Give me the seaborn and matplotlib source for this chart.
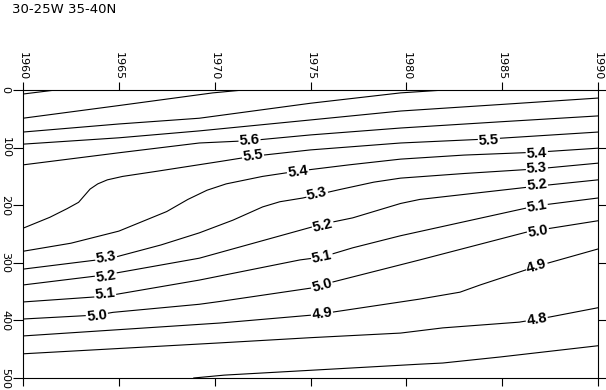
import numpy as np
import pandas as pd
import matplotlib
matplotlib.use("Agg")
import matplotlib.pyplot as plt
import seaborn as sns

c60 = [(1960, 7), (1961.7, 0)]
c59 = [(1960, 49), (1965, 27), (1969.9, 5), (1971.5, 0)]
c58 = [(1960, 73), (1965, 59), (1969.2, 49), (1975, 23), (1979.7, 5), (1982, 0)]
c57 = [(1960, 94), (1965, 83), (1969.2, 71), (1975, 52), (1979.7, 36.5), (1985, 25), (1990, 14)]
c56 = [(1960, 130), (1965, 109), (1969.2, 92), (1971.8, 88), (1975, 78), (1979.7, 66), (1985, 55), (1990, 45)]
c55 = [(1960, 240), (1961.4, 221), (1962.3, 206), (1962.9, 195), (1963.5, 172), (1963.9, 163),
       (1964.4, 156), (1965.2, 150), (1967, 141), (1970.3, 124), (1972, 115), (1975, 104),
       (1979.7, 92), (1984.3, 85), (1990, 73)]
c54 = [(1960, 280), (1962.5, 266), (1965, 245), (1967.5, 211), (1968.6, 190), (1969.6, 174),
       (1970.6, 163), (1972.5, 150), (1974.3, 141), (1977, 130), (1979.7, 120), (1983, 113),
       (1986.8, 108), (1990, 101)]
c53 = [(1960, 311), (1964.6, 292), (1967.2, 269), (1969.2, 248), (1970.95, 226), (1972.5, 203),
       (1973.4, 194), (1974.6, 187.5), (1976.5, 173), (1978.3, 160), (1979.7, 153), (1983, 145),
       (1986.8, 137), (1990, 127)]
c52 = [(1960, 338.5), (1964.3, 321), (1969.2, 292), (1975.6, 233), (1977.2, 222), (1979.7, 197),
       (1980.7, 190), (1986.8, 167), (1990, 156)]
c51 = [(1960, 368), (1964.3, 358), (1969.2, 330), (1974.45, 295), (1975.6, 290), (1977.2, 274),
       (1979.7, 253), (1986.8, 201), (1990, 187.5)]
c50 = [(1960, 397.6), (1963.9, 390.6), (1964.7, 386), (1969.2, 372), (1970.3, 367), (1975, 344),
       (1975.6, 338.5), (1976.2, 333), (1980.7, 295), (1986.3, 246.5), (1990, 227)]
c49 = [(1960, 427), (1970.3, 404.5), (1975, 391), (1976.2, 385.4), (1980.7, 363), (1982.8, 351),
       (1983.85, 338.5), (1985.9, 316), (1986.8, 306), (1990, 276)]
c48 = [(1960, 458), (1970.3, 439), (1975, 430), (1979.7, 422), (1981.9, 413), (1985.9, 403),
       (1987.5, 394), (1990, 378)]
c47 = [(1968.9, 500), (1970.5, 495), (1980.7, 476), (1981.9, 474), (1984.9, 463.5), (1990, 444)]

level_names = ["6.0", "5.9", "5.8", "5.7", "5.6", "5.5", "5.4", "5.3", "5.2", "5.1", "5.0", "4.9", "4.8", "4.7"]
level_lines = [c60, c59, c58, c57, c56, c55, c54, c53, c52, c51, c50, c49, c48, c47]

# inline contour labels
label_text = ["5.6", "5.5", "5.4", "5.3", "5.2", "5.1", "5.0", "4.9",
              "5.5", "5.4", "5.3", "5.2", "5.1", "5.0", "4.9", "4.8",
              "5.3", "5.2", "5.1", "5.0"]
label_year = [1971.82, 1972.0, 1974.35, 1975.34, 1975.65, 1975.6, 1975.6, 1975.6,
              1984.31, 1986.81, 1986.81, 1986.81, 1986.81, 1986.87, 1986.81, 1986.81,
              1964.33, 1964.33, 1964.28, 1963.86]
label_depth = [87.7, 114.6, 142.4, 180.6, 236, 290, 340, 389,
               86.8, 109.4, 135.4, 165, 201.4, 244.8, 306.4, 399,
               290, 323, 354, 392]

years = [1960, 1965, 1970, 1975, 1980, 1985, 1990]
depths = [0, 100, 200, 300, 400, 500]

rows = []
for name, pts in zip(level_names, level_lines):
    for i, (yr, dp) in enumerate(pts):
        rows.append({"level": name, "order": i, "year": yr, "depth": dp})
df = pd.DataFrame(rows)

sns.set_theme(style="white")
plt.rcParams["font.family"] = ["DejaVu Sans"]

fig = plt.figure(figsize=(6.06, 3.9), dpi=100)
ax = fig.add_axes([23 / 606, 12 / 390, 575 / 606, 288 / 390])

sns.lineplot(data=df, x="year", y="depth", units="level", estimator=None, sort=False,
             color="black", linewidth=0.8, legend=False, ax=ax)

ax.set_xlim(1960, 1990)
ax.set_ylim(500, 0)
ax.set_xlabel("")
ax.set_ylabel("")

ax.set_xticks(years)
ax.set_xticklabels([str(y) for y in years], rotation=-90)
ax.set_yticks(depths)
ax.set_yticklabels([str(d) for d in depths], rotation=-90, va="center")
ax.tick_params(axis="x", top=True, bottom=True, labeltop=True, labelbottom=False,
               direction="out", length=6, width=0.8, color="black", pad=1,
               labelsize=8, labelcolor="black")
ax.tick_params(axis="y", left=True, right=True, labelleft=True, labelright=False,
               direction="out", length=7, width=0.8, color="black", pad=2,
               labelsize=8, labelcolor="black")
for s in ax.spines.values():
    s.set_visible(True)
    s.set_color("black")
    s.set_linewidth(0.8)

# place labels along the local slope of their contour
lookup = dict(zip(level_names, level_lines))
for txt, yr, dp in zip(label_text, label_year, label_depth):
    pts = np.array(lookup[txt])
    d0 = np.interp(yr - 0.6, pts[:, 0], pts[:, 1])
    d1 = np.interp(yr + 0.6, pts[:, 0], pts[:, 1])
    p0 = ax.transData.transform((yr - 0.6, d0))
    p1 = ax.transData.transform((yr + 0.6, d1))
    ang = np.degrees(np.arctan2(p1[1] - p0[1], p1[0] - p0[0]))
    ax.text(yr, dp, txt, rotation=ang, rotation_mode="anchor", ha="center", va="center",
            fontsize=10.5, fontweight="bold", family=["Liberation Sans", "DejaVu Sans"],
            color="black", bbox=dict(facecolor="white", edgecolor="none", pad=0.6), zorder=5)

fig.text(12 / 606, 1 - 13 / 390, "30-25W 35-40N", fontsize=9.5, va="baseline", ha="left", color="black")

fig.savefig("out.png", dpi=100, facecolor="white")
